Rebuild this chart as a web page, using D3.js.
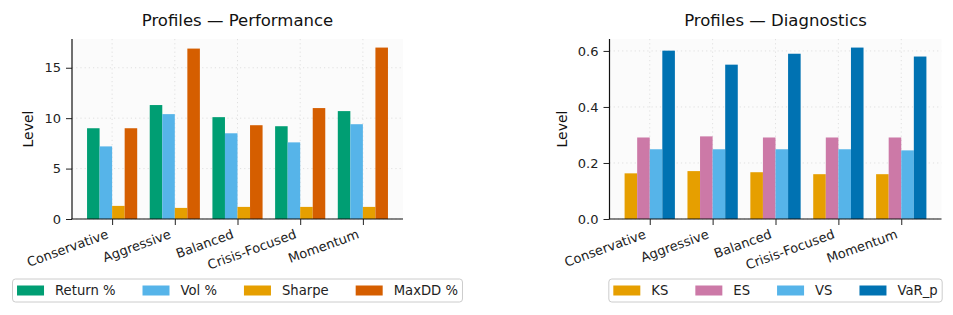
<!DOCTYPE html>
<html>
<head>
<meta charset="utf-8">
<script src="https://cdn.jsdelivr.net/npm/d3@7"></script>
<style>
  body { margin: 0; background: #fff; }
  svg { font-family: "DejaVu Sans", sans-serif; }
</style>
</head>
<body>
<svg width="953" height="315"></svg>
<script>
var profiles = ["Conservative", "Aggressive", "Balanced", "Crisis-Focused", "Momentum"];

// left panel series
var perfSeries = ["Return %", "Vol %", "Sharpe", "MaxDD %"];
var returnPct = [9.0, 11.3, 10.1, 9.2, 10.7];
var volPct    = [7.2, 10.4, 8.5, 7.6, 9.4];
var sharpe    = [1.3, 1.1, 1.2, 1.2, 1.2];
var maxDDPct  = [9.0, 16.9, 9.3, 11.0, 17.0];
var perfTicks = [0, 5, 10, 15];

// right panel series
var diagSeries = ["KS", "ES", "VS", "VaR_p"];
var ks   = [0.163, 0.171, 0.167, 0.160, 0.160];
var es   = [0.291, 0.295, 0.291, 0.291, 0.291];
var vs   = [0.249, 0.249, 0.249, 0.249, 0.245];
var varP = [0.601, 0.551, 0.590, 0.612, 0.580];
var diagTicks = [0.0, 0.2, 0.4, 0.6];

var svg = d3.select("svg");

function panel(opt) {
    var x = d3.scaleLinear().domain([-0.64, 4.64]).range([opt.left, opt.right]);
    var ymax = d3.max(opt.values, function(v) { return d3.max(v); }) * 1.05;
    var y = d3.scaleLinear().domain([0, ymax]).range([opt.bottom, opt.top]);
    var g = svg.append("g");

    g.append("rect")
        .attr("x", opt.left).attr("y", opt.top)
        .attr("width", opt.right - opt.left).attr("height", opt.bottom - opt.top)
        .attr("fill", "#fbfbfb");

    // grid
    var grid = g.append("g")
        .attr("stroke", "#d9d9d9").attr("stroke-width", 0.8)
        .attr("stroke-dasharray", "1.2,3");
    opt.ticks.forEach(function(t) {
        grid.append("line")
            .attr("x1", opt.left).attr("x2", opt.right)
            .attr("y1", y(t)).attr("y2", y(t));
    });
    profiles.forEach(function(p, i) {
        grid.append("line")
            .attr("x1", x(i)).attr("x2", x(i))
            .attr("y1", opt.top).attr("y2", opt.bottom);
    });

    // bars
    var bw = 0.2;
    opt.values.forEach(function(vals, j) {
        g.append("g").selectAll("rect")
            .data(vals)
            .enter().append("rect")
            .attr("x", function(d, i) { return x(i + (j - 1.5) * bw - bw / 2); })
            .attr("width", x(bw) - x(0))
            .attr("y", function(d) { return y(d); })
            .attr("height", function(d) { return y(0) - y(d); })
            .attr("fill", opt.colors[j]);
    });

    // y axis
    var yAxis = d3.axisLeft(y).tickValues(opt.ticks).tickSize(6).tickPadding(5)
        .tickFormat(opt.fmt);
    var ya = g.append("g").attr("transform", "translate(" + opt.left + ",0)").call(yAxis);
    ya.select(".domain").remove();
    ya.selectAll("text").attr("font-size", "13px").attr("fill", "#222")
        .attr("font-family", "DejaVu Sans");
    ya.selectAll("line").attr("stroke", "#222");

    // x axis
    var xAxis = d3.axisBottom(x).tickValues(d3.range(profiles.length)).tickSize(6)
        .tickFormat(function(i) { return profiles[i]; });
    var xa = g.append("g").attr("transform", "translate(0," + opt.bottom + ")").call(xAxis);
    xa.select(".domain").remove();
    xa.selectAll("line").attr("stroke", "#222");
    xa.selectAll("text")
        .attr("font-size", "13px").attr("fill", "#222")
        .attr("font-family", "DejaVu Sans")
        .attr("text-anchor", "end")
        .attr("y", 0).attr("dy", "0.8em")
        .attr("transform", "translate(-7,9) rotate(-20)");

    // spines
    g.append("line").attr("x1", opt.left).attr("x2", opt.left)
        .attr("y1", opt.top).attr("y2", opt.bottom)
        .attr("stroke", "#111").attr("stroke-width", 1.2);
    g.append("line").attr("x1", opt.left - 0.6).attr("x2", opt.right)
        .attr("y1", opt.bottom).attr("y2", opt.bottom)
        .attr("stroke", "#111").attr("stroke-width", 1.2);

    var cx = (opt.left + opt.right) / 2;
    g.append("text").attr("x", cx).attr("y", 26)
        .attr("text-anchor", "middle").attr("font-size", "16.5px").attr("fill", "#111")
        .text(opt.title);

    g.append("text")
        .attr("transform", "translate(" + opt.labelX + "," + ((opt.top + opt.bottom) / 2) + ") rotate(-90)")
        .attr("text-anchor", "middle").attr("font-size", "14px").attr("fill", "#111")
        .text("Level");

    // legend
    var lg = g.append("g");
    var box = lg.append("rect")
        .attr("y", 279).attr("height", 23).attr("rx", 3)
        .attr("fill", "#fff").attr("fill-opacity", 0.8)
        .attr("stroke", "#cccccc").attr("stroke-width", 1);
    var pad = 4.5, pw = 27, gap = 11, colGap = 27;
    var cursor = 0;
    var items = lg.append("g");
    opt.series.forEach(function(s, j) {
        var it = items.append("g").attr("transform", "translate(" + cursor + ",0)");
        it.append("rect").attr("x", 0).attr("y", 285.5).attr("width", pw).attr("height", 10)
            .attr("fill", opt.colors[j]);
        var t = it.append("text").attr("x", pw + gap).attr("y", 295)
            .attr("font-size", "13.2px").attr("fill", "#222").text(s);
        cursor += pw + gap + t.node().getComputedTextLength() + (j < opt.series.length - 1 ? colGap : 0);
    });
    var total = cursor + pad * 2;
    var bx = cx - total / 2;
    box.attr("x", bx).attr("width", total);
    items.attr("transform", "translate(" + (bx + pad) + ",0)");
}

panel({
    left: 72, right: 403, top: 39, bottom: 219,
    values: [returnPct, volPct, sharpe, maxDDPct],
    series: perfSeries,
    colors: ["#009E73", "#56B4E9", "#E69F00", "#D55E00"],
    ticks: perfTicks, fmt: d3.format("d"),
    title: "Profiles \u2014 Performance", labelX: 33
});

panel({
    left: 609.5, right: 941.5, top: 39, bottom: 219,
    values: [ks, es, vs, varP],
    series: diagSeries,
    colors: ["#E69F00", "#CC79A7", "#56B4E9", "#0072B2"],
    ticks: diagTicks, fmt: d3.format(".1f"),
    title: "Profiles \u2014 Diagnostics", labelX: 566.5
});
</script>
</body>
</html>
